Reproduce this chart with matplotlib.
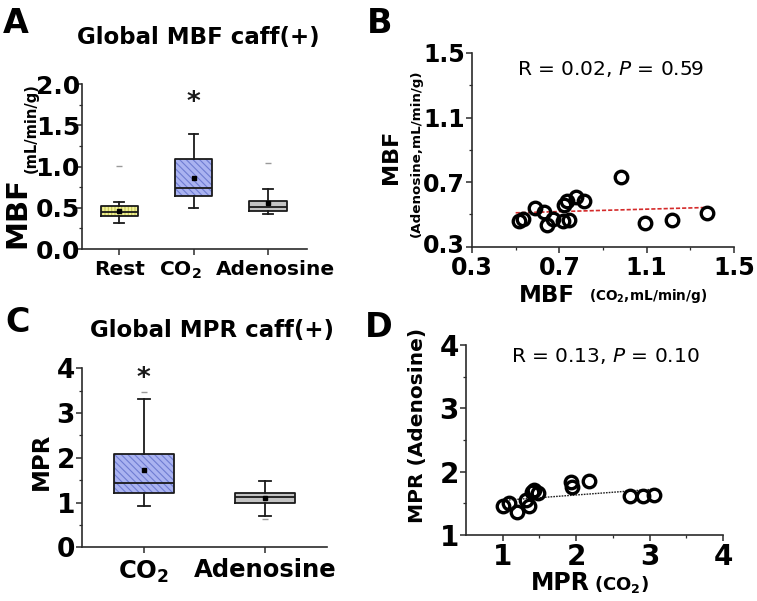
import numpy as np
import matplotlib
matplotlib.use("Agg")
import matplotlib.pyplot as plt
from matplotlib.ticker import MultipleLocator, FixedLocator
from matplotlib.transforms import ScaledTranslation

plt.rcParams['font.family'] = ['DejaVu Sans']
plt.rcParams['hatch.linewidth'] = 0.8

# ---------------- data ----------------
# Panel A: Global MBF caff(+)
A_labels = ['Rest', 'CO$_\\mathbf{2}$', 'Adenosine']
A_whislo = [0.32, 0.50, 0.43]
A_q1 = [0.40, 0.64, 0.465]
A_med = [0.45, 0.735, 0.505]
A_q3 = [0.525, 1.09, 0.585]
A_whishi = [0.57, 1.40, 0.73]
A_mean = [0.46, 0.857, 0.56]
A_extreme = [1.01, None, 1.05]
A_star = [None, 1.77, None]

# Panel C: Global MPR caff(+)
C_labels = ['CO$_\\mathbf{2}$', 'Adenosine']
C_whislo = [0.92, 0.70]
C_q1 = [1.21, 0.98]
C_med = [1.44, 1.13]
C_q3 = [2.08, 1.21]
C_whishi = [3.31, 1.48]
C_mean = [1.73, 1.095]
C_extreme = [3.48, 0.63]
C_star = [3.76, None]

# Panel B: MBF CO2 vs MBF adenosine
B_x = [0.514, 0.533, 0.589, 0.632, 0.642, 0.672, 0.718, 0.743, 0.721, 0.733,
       0.776, 0.815, 0.981, 1.092, 1.215, 1.376]
B_y = [0.459, 0.470, 0.538, 0.517, 0.434, 0.470, 0.459, 0.465, 0.558, 0.585,
       0.606, 0.583, 0.733, 0.445, 0.465, 0.507]
B_fit_x = [0.50, 1.376]
B_fit_y = [0.510, 0.543]
B_text = 'R = 0.02, $\\mathit{P}$ = $\\mathit{0.59}$'

# Panel D: MPR CO2 vs MPR adenosine
D_x = [1.01, 1.08, 1.19, 1.32, 1.36, 1.40, 1.43, 1.48, 1.93, 1.95, 2.18,
       2.73, 2.91, 3.06]
D_y = [1.45, 1.51, 1.37, 1.55, 1.45, 1.68, 1.71, 1.66, 1.83, 1.76, 1.86,
       1.62, 1.62, 1.63]
D_fit_x = [1.01, 3.06]
D_fit_y = [1.547, 1.723]
D_text = 'R = 0.13, $\\mathit{P}$ = $\\mathit{0.10}$'

# ---------------- styling ----------------
W, H = 757, 601
fig = plt.figure(figsize=(W / 100, H / 100), dpi=100)


def fx(x):
    return x / W


def fy(y):
    return 1 - y / H


def axes_px(left, top, right, bottom):
    return fig.add_axes([fx(left), fy(bottom), (right - left) / W, (bottom - top) / H])


SPINE = '#2b2b2b'


def style_axes(ax, xsize, ysize, xpad=3, ypad=2):
    for s in ['top', 'right']:
        ax.spines[s].set_visible(False)
    for s in ['left', 'bottom']:
        ax.spines[s].set_color(SPINE)
        ax.spines[s].set_linewidth(1.2)
    ax.tick_params(which='major', direction='out', length=4, width=1.1, color=SPINE)
    ax.tick_params(which='minor', direction='out', length=2.5, width=0.9, color=SPINE)
    ax.tick_params(axis='x', labelsize=xsize, pad=xpad)
    ax.tick_params(axis='y', labelsize=ysize, pad=ypad)
    for lab in ax.get_xticklabels() + ax.get_yticklabels():
        lab.set_fontweight('bold')


def shift_label(lab, dx_px, dy_px=0):
    lab.set_transform(lab.get_transform() +
                      ScaledTranslation(dx_px / 100, dy_px / 100, fig.dpi_scale_trans))


box_colors = ['#f2f295', '#aab3f1', '#c3c3c3']
hatch_colors = ['#c4c45a', '#6f7cd2', '#c3c3c3']
hatches = ['|||||', '\\\\\\\\\\', None]


def draw_boxes(ax, whislo, q1, med, q3, whishi, mean, extreme, star,
               fills, hcols, hts, capw):
    n = len(med)
    pos = list(range(1, n + 1))
    stats = []
    for i in range(n):
        stats.append(dict(whislo=whislo[i], q1=q1[i], med=med[i], q3=q3[i],
                          whishi=whishi[i], mean=mean[i], fliers=[]))
    res = ax.bxp(stats, positions=pos, widths=0.5, patch_artist=True,
                 showcaps=False, showmeans=False, manage_ticks=False,
                 boxprops=dict(linewidth=0),
                 whiskerprops=dict(linewidth=0),
                 medianprops=dict(linewidth=0))
    for b, fc, hc, ht in zip(res['boxes'], fills, hcols, hts):
        b.set_facecolor(fc)
        b.set_edgecolor(hc)
        if ht:
            b.set_hatch(ht)
    lw = 1.3
    ax.bxp(stats, positions=pos, widths=0.5, patch_artist=False,
           showmeans=True, manage_ticks=False, capwidths=capw,
           boxprops=dict(color='#1a1a1a', linewidth=lw),
           whiskerprops=dict(color='#1a1a1a', linewidth=lw),
           capprops=dict(color='#1a1a1a', linewidth=lw),
           medianprops=dict(color='#1a1a1a', linewidth=lw),
           meanprops=dict(marker='s', markersize=2.6, markerfacecolor='black',
                          markeredgecolor='black'))
    ex_p = [p for p, v in zip(pos, extreme) if v is not None]
    ex_v = [v for v in extreme if v is not None]
    ax.plot(ex_p, ex_v, ls='none', marker='_', color='#9a9a9a', ms=4, mew=1)
    for p, v in zip(pos, star):
        if v is not None:
            ax.text(p, v, '*', ha='center', va='center', fontsize=19,
                    fontweight='bold', color='#1a1a1a')


# ---------------- Panel A ----------------
axA = axes_px(82, 84.3, 306.7, 249)
draw_boxes(axA, A_whislo, A_q1, A_med, A_q3, A_whishi, A_mean, A_extreme, A_star,
           box_colors, hatch_colors, hatches, 0.13)
axA.set_xlim(0.5, 3.52)
axA.set_ylim(0, 2.0)
axA.set_xticks([1, 2, 3])
axA.set_xticklabels(A_labels)
axA.set_yticks([0, 0.5, 1.0, 1.5, 2.0])
axA.set_yticklabels(['0.0', '0.5', '1.0', '1.5', '2.0'])
axA.yaxis.set_minor_locator(MultipleLocator(0.25))
style_axes(axA, 14.5, 18, xpad=4, ypad=-2.5)
xl = axA.get_xticklabels()
shift_label(xl[1], -13)
shift_label(xl[2], 7)

fig.text(fx(198), fy(44), 'Global MBF caff(+)', ha='center', va='baseline',
         fontsize=16.5, fontweight='bold')
fig.text(fx(17), fy(212.5), 'MBF', rotation=90, ha='center', va='center',
         fontsize=21, fontweight='bold')
fig.text(fx(31), fy(128), '(mL/min/g)', rotation=90, ha='center', va='center',
         fontsize=10.5, fontweight='bold')

# ---------------- Panel C ----------------
axC = axes_px(82, 368.3, 327, 547.3)
draw_boxes(axC, C_whislo, C_q1, C_med, C_q3, C_whishi, C_mean, C_extreme, C_star,
           [box_colors[1], box_colors[2]], [hatch_colors[1], hatch_colors[2]],
           [hatches[1], hatches[2]], 0.1)
axC.set_xlim(0.49, 2.51)
axC.set_ylim(0, 4)
axC.set_xticks([1, 2])
axC.set_xticklabels(C_labels)
axC.set_yticks([0, 1, 2, 3, 4])
axC.yaxis.set_minor_locator(MultipleLocator(0.5))
style_axes(axC, 17.5, 19, xpad=4, ypad=1)

fig.text(fx(212), fy(337), 'Global MPR caff(+)', ha='center', va='baseline',
         fontsize=16.5, fontweight='bold')
fig.text(fx(41), fy(461), 'MPR', rotation=90, ha='center', va='center',
         fontsize=16.5, fontweight='bold')

# ---------------- Panel B ----------------
axB = axes_px(472, 53, 734, 246.7)
axB.plot(B_fit_x, B_fit_y, ls=(0, (2.5, 1.2)), color='#d42a2a', lw=1.2, zorder=2)
axB.plot(B_x, B_y, ls='none', marker='o', ms=9, mfc='none', mec='black',
         mew=2.4, zorder=3, clip_on=False)
axB.set_xlim(0.3, 1.5)
axB.set_ylim(0.3, 1.5)
axB.set_xticks([0.3, 0.7, 1.1, 1.5])
axB.set_yticks([0.3, 0.7, 1.1, 1.5])
axB.xaxis.set_minor_locator(FixedLocator([0.5, 0.9, 1.3]))
axB.yaxis.set_minor_locator(FixedLocator([0.5, 0.9, 1.3]))
style_axes(axB, 17, 17, xpad=3, ypad=1)
shift_label(axB.get_yticklabels()[0], 0, 3)
axB.text(0.53, 0.915, B_text, transform=axB.transAxes, ha='center', va='center',
         fontsize=14.5)

fig.text(fx(391), fy(156.5), 'MBF', rotation=90, ha='center', va='center',
         fontsize=16, fontweight='bold')
fig.text(fx(416), fy(153.5), '(Adenosine,mL/min/g)', rotation=90, ha='center',
         va='center', fontsize=9.7, fontweight='bold')
fig.text(fx(546.5), fy(302), 'MBF', ha='center', va='baseline',
         fontsize=16.5, fontweight='bold')
fig.text(fx(648.5), fy(300), '(CO$_\\mathbf{2}$,mL/min/g)', ha='center',
         va='baseline', fontsize=9.8, fontweight='bold')

# ---------------- Panel D ----------------
axD = axes_px(466, 345, 723, 535)
axD.plot(D_fit_x, D_fit_y, ls=(0, (1.2, 0.8)), color='#222222', lw=1.0, zorder=2)
axD.plot(D_x, D_y, ls='none', marker='o', ms=9, mfc='none', mec='black',
         mew=2.4, zorder=3, clip_on=False)
axD.set_xlim(0.5, 4.0)
axD.set_ylim(1, 4)
axD.set_xticks([1, 2, 3, 4])
axD.set_yticks([1, 2, 3, 4])
axD.xaxis.set_minor_locator(FixedLocator([1.5, 2.5, 3.5]))
axD.yaxis.set_minor_locator(FixedLocator([1.5, 2.5, 3.5]))
style_axes(axD, 20, 20, xpad=2, ypad=1)
axD.text(0.54, 0.94, D_text, transform=axD.transAxes, ha='center', va='center',
         fontsize=14.5)

fig.text(fx(418), fy(425), 'MPR (Adenosine)', rotation=90, ha='center',
         va='center', fontsize=14.5, fontweight='bold')
fig.text(fx(560), fy(590), 'MPR', ha='center', va='baseline',
         fontsize=17, fontweight='bold')
fig.text(fx(621), fy(590), '(CO$_\\mathbf{2}$)', ha='center', va='baseline',
         fontsize=13, fontweight='bold')

# ---------------- panel letters ----------------
for lab, x, y in [('A', 3, 33), ('B', 367, 33), ('C', 5, 332), ('D', 365, 337)]:
    fig.text(fx(x), fy(y), lab, ha='left', va='baseline', fontsize=24,
             fontweight='bold')

fig.savefig('out.png', dpi=100)
